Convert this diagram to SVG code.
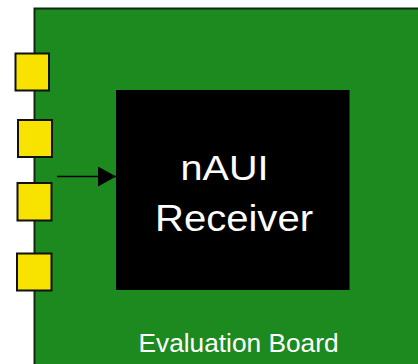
<svg xmlns="http://www.w3.org/2000/svg" width="418" height="364" viewBox="0 0 418 364">
<style>
.port{fill:#f8e200;stroke:#111;stroke-width:2}
.lbl{font-family:"Liberation Sans",Arial,sans-serif;fill:#fff}
</style>
<defs>
<marker id="ah" markerWidth="18" markerHeight="20" refX="18" refY="10" orient="auto" markerUnits="userSpaceOnUse">
<path d="M0,0 L18,10 L0,20 Z" fill="#000"/>
</marker>
</defs>
<rect width="418" height="364" fill="#fff"/>
<g id="board">
<rect x="34.5" y="8.5" width="400" height="380" fill="#1d8a1f" stroke="#0f2a10" stroke-width="2"/>
<text class="lbl" x="238.5" y="351.5" font-size="25.6" text-anchor="middle" textLength="200" lengthAdjust="spacingAndGlyphs">Evaluation Board</text>
</g>
<g id="port1"><rect class="port" x="15.5" y="53.5" width="33.5" height="37"/></g>
<g id="port2"><rect class="port" x="18" y="120" width="34" height="37"/></g>
<g id="port3"><rect class="port" x="17.5" y="183" width="34" height="37.5"/></g>
<g id="port4"><rect class="port" x="17" y="253.5" width="34.5" height="37"/></g>
<g id="receiver">
<rect x="116" y="90" width="233.5" height="200" fill="#000"/>
<text class="lbl" x="224.5" y="179.5" font-size="35" text-anchor="middle" textLength="88" lengthAdjust="spacingAndGlyphs">nAUI</text>
<text class="lbl" x="234" y="230.5" font-size="36" text-anchor="middle" textLength="158" lengthAdjust="spacingAndGlyphs">Receiver</text>
</g>
<g id="connectors">
<line x1="57" y1="176.5" x2="116" y2="176.5" stroke="#000" stroke-width="1.5" marker-end="url(#ah)"/>
</g>
</svg>
